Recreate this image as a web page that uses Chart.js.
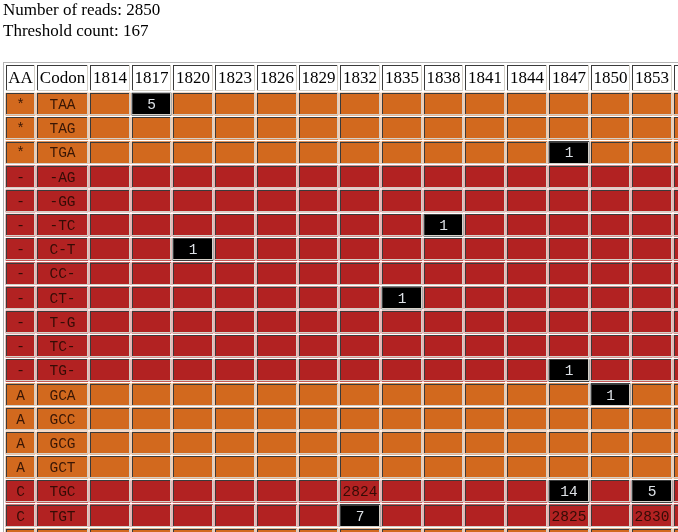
<!DOCTYPE html>
<html>
<head>
<meta charset="utf-8">
<script src="https://cdn.jsdelivr.net/npm/chart.js@4"></script>
<style>
    html, body { margin: 0; padding: 0; overflow: hidden; background: #fff; width: 678px; height: 532px; }
    #info { position: absolute; left: 3px; top: -1px; font: 17px/21px "Liberation Serif", "Times New Roman", serif; color: #000; }
    #heat { position: absolute; left: 0; top: 0; }
</style>
</head>
<body>
<canvas id="heat" width="720" height="552"></canvas>
<div id="info">
    <div>Number of reads: <span id="reads"></span></div>
    <div>Threshold count: <span id="threshold"></span></div>
</div>
<script>
// summary numbers
const numReads = 2850;
const thresholdCount = 167;

// rows: amino acid + codon (last row is only just visible at the bottom)
const aminoAcids = ['*', '*', '*', '-', '-', '-', '-', '-', '-', '-', '-', '-', 'A', 'A', 'A', 'A', 'C', 'C', 'D'];
const codons = ['TAA', 'TAG', 'TGA', '-AG', '-GG', '-TC', 'C-T', 'CC-', 'CT-', 'T-G', 'TC-', 'TG-', 'GCA', 'GCC', 'GCG', 'GCT', 'TGC', 'TGT', 'GAC'];

// columns: nucleotide positions (1856 is cut off at the right edge)
const positions = [1814, 1817, 1820, 1823, 1826, 1829, 1832, 1835, 1838, 1841, 1844, 1847, 1850, 1853, 1856];

// non-zero counts: codon, position, count
const hitCodons = ['TAA', 'TGA', '-TC', 'C-T', 'CT-', 'TG-', 'GCA', 'TGC', 'TGC', 'TGC', 'TGT', 'TGT', 'TGT'];
const hitPositions = [1817, 1847, 1838, 1820, 1835, 1847, 1850, 1832, 1847, 1853, 1832, 1847, 1853];
const hitCounts = [5, 1, 1, 1, 1, 1, 1, 2824, 14, 5, 7, 2825, 2830];

document.getElementById('reads').textContent = numReads;
document.getElementById('threshold').textContent = thresholdCount;

// table layout (pixels)
const tableLeft = 4;
const cellSpacing = 2;
const aaWidth = 29;
const codonWidth = 51;
const posPitch = 41.71;

const ORANGE = '#d2691e';
const RED = '#b22222';
const aaColors = { '*': ORANGE, '-': RED, 'A': ORANGE, 'C': RED, 'D': ORANGE };

function countAt(row, col) {
    for (let i = 0; i < hitCounts.length; i++) {
        if (hitCodons[i] === codons[row] && hitPositions[i] === positions[col]) return hitCounts[i];
    }
    return 0;
}

// column extents
const columns = [];
let x = tableLeft + cellSpacing;
columns.push({ head: 'AA', x0: x, x1: x + aaWidth });
x += aaWidth + cellSpacing;
columns.push({ head: 'Codon', x0: x, x1: x + codonWidth });
x += codonWidth + cellSpacing;
positions.forEach((p, k) => {
    const s = x + k * posPitch;
    columns.push({ head: String(p), x0: Math.round(s), x1: Math.round(s + posPitch - cellSpacing) });
});

function cellColor(col, row) {
    if (col >= 2) {
        const c = countAt(row, col - 2);
        if (c > 0 && c < thresholdCount) return '#000';
    }
    return aaColors[aminoAcids[row]];
}

function cellText(col, row) {
    if (col === 0) return aminoAcids[row];
    if (col === 1) return codons[row];
    const c = countAt(row, col - 2);
    return c > 0 ? String(c) : '';
}

const datasets = columns.map((c, col) => ({
    label: c.head,
    data: codons.map(() => [c.x0, c.x1]),
    backgroundColor: ctx => cellColor(col, ctx.dataIndex),
    borderWidth: 0,
    grouped: false,
    barThickness: 22
}));

// inset border like an html table cell
function drawBorder(ctx, l, t, r, b) {
    ctx.fillStyle = '#3a3a3a';
    ctx.fillRect(l, t, r - l, 1);
    ctx.fillRect(l, t, 1, b - t);
    ctx.fillStyle = '#d4d0c8';
    ctx.fillRect(l, b - 1, r - l, 1);
    ctx.fillRect(r - 1, t, 1, b - t);
}

const tablePlugin = {
    id: 'tableCells',
    afterDatasetsDraw(chart) {
        const ctx = chart.ctx;
        const area = chart.chartArea;
        ctx.save();

        // outer table border
        const top = Math.round(area.top) - 30;
        ctx.fillStyle = '#b4b4b4';
        ctx.fillRect(tableLeft - 1, top, chart.width, 1);
        ctx.fillRect(tableLeft - 1, top, 1, chart.height);

        chart.data.datasets.forEach((ds, col) => {
            const meta = chart.getDatasetMeta(col);
            meta.data.forEach((bar, row) => {
                const p = bar.getProps(['x', 'y', 'base', 'height'], true);
                const l = Math.round(Math.min(p.x, p.base));
                const r = Math.round(Math.max(p.x, p.base));
                const t = Math.round(p.y - p.height / 2);
                const b = Math.round(p.y + p.height / 2);
                drawBorder(ctx, l, t, r, b);

                // header cell above the first row
                if (row === 0) {
                    const ht = top + 3;
                    const hb = t - 2;
                    ctx.fillStyle = '#fff';
                    ctx.fillRect(l, ht, r - l, hb - ht);
                    drawBorder(ctx, l, ht, r, hb);
                    ctx.fillStyle = '#000';
                    ctx.font = '17px "Liberation Serif", "Times New Roman", serif';
                    ctx.textAlign = 'center';
                    ctx.textBaseline = 'middle';
                    ctx.fillText(ds.label, (l + r) / 2, (ht + hb) / 2 + 1);
                }

                const txt = cellText(col, row);
                if (txt) {
                    const dark = cellColor(col, row) === '#000';
                    ctx.fillStyle = dark ? '#dde1e6' : 'rgba(30,8,0,0.85)';
                    ctx.font = '14.5px "Liberation Mono", "Courier New", monospace';
                    ctx.textAlign = 'center';
                    ctx.textBaseline = 'middle';
                    ctx.fillText(txt, (l + r) / 2, p.y + 1);
                }
            });
        });
        ctx.restore();
    }
};

new Chart(document.getElementById('heat'), {
    type: 'bar',
    data: { labels: codons, datasets: datasets },
    options: {
        indexAxis: 'y',
        responsive: false,
        animation: false,
        devicePixelRatio: 1,
        layout: { padding: { top: 92.1, left: 0, right: 0, bottom: 0 } },
        scales: {
            x: { type: 'linear', min: 0, max: 720, display: false },
            y: { type: 'category', display: false }
        },
        plugins: {
            legend: { display: false },
            tooltip: { enabled: false }
        }
    },
    plugins: [tablePlugin]
});
</script>
</body>
</html>
